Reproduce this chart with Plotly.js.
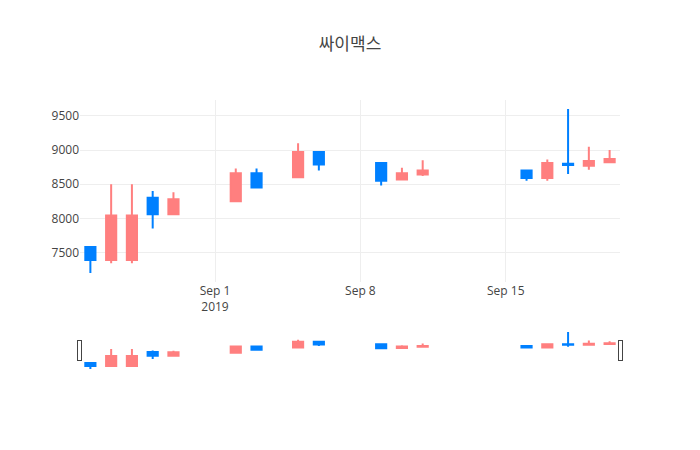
<!DOCTYPE html>
<html>
<head>
<meta charset="utf-8">
<script src="https://cdn.plot.ly/plotly-3.0.1.min.js"></script>
<style>body{margin:0;} #myDiv{width:700px;height:450px;}</style>
</head>
<body>
<div id="myDiv"></div>
<script>
var dates = ['2019-08-26', '2019-08-27', '2019-08-28', '2019-08-29', '2019-08-30',
  '2019-09-02', '2019-09-03', '2019-09-05', '2019-09-06',
  '2019-09-09', '2019-09-10', '2019-09-11',
  '2019-09-16', '2019-09-17', '2019-09-18', '2019-09-19', '2019-09-20'];
var openP = [7580, 7390, 7390, 8300, 8060, 8250, 8660, 8600, 8970, 8810, 8570, 8640, 8700, 8590, 8800, 8770, 8820];
var highP = [7580, 8500, 8500, 8400, 8380, 8730, 8730, 9100, 8980, 8810, 8740, 8850, 8700, 8860, 9600, 9050, 9000];
var lowP  = [7200, 7340, 7340, 7850, 8060, 8250, 8440, 8600, 8700, 8480, 8570, 8620, 8550, 8550, 8650, 8710, 8820];
var closeP = [7390, 8040, 8040, 8060, 8280, 8660, 8450, 8970, 8790, 8550, 8660, 8700, 8590, 8810, 8780, 8840, 8870];

var trace = {
  x: dates,
  open: openP,
  high: highP,
  low: lowP,
  close: closeP,
  type: 'candlestick',
  increasing: {line: {color: '#ff7f7f'}, fillcolor: '#ff7f7f'},
  decreasing: {line: {color: '#0080ff'}, fillcolor: '#0080ff'}
};

var layout = {
  title: {
    text: '싸이맥스',
    font: {family: 'Open Sans, Noto Sans CJK KR, sans-serif', size: 17, color: '#444'}
  },
  font: {family: 'Open Sans, Noto Sans CJK KR, sans-serif'},
  showlegend: false,
  xaxis: {
    type: 'date',
    rangeslider: {visible: true}
  },
  yaxis: {}
};

Plotly.newPlot('myDiv', [trace], layout, {displayModeBar: false});
</script>
</body>
</html>
